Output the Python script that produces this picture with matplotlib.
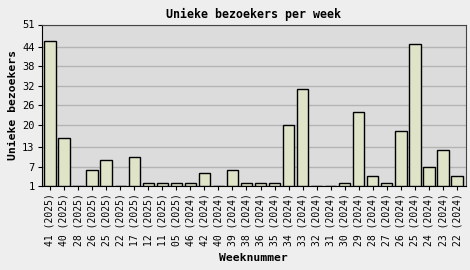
import matplotlib
matplotlib.use("Agg")
import matplotlib.pyplot as plt

weeks = ["41 (2025)", "40 (2025)", "28 (2025)", "26 (2025)", "25 (2025)", "22 (2025)",
         "17 (2025)", "12 (2025)", "11 (2025)", "05 (2025)", "46 (2024)", "42 (2024)",
         "40 (2024)", "39 (2024)", "38 (2024)", "36 (2024)", "35 (2024)", "34 (2024)",
         "33 (2024)", "32 (2024)", "31 (2024)", "30 (2024)", "29 (2024)", "28 (2024)",
         "27 (2024)", "26 (2024)", "25 (2024)", "24 (2024)", "23 (2024)", "22 (2024)"]
visitors = [46, 16, 1, 6, 9, 1, 10, 2, 2, 2, 2, 5, 1, 6, 2, 2, 2, 20, 31, 1, 1, 2, 24, 4, 2, 18, 45, 7, 12, 4]
yticks = [1, 7, 13, 20, 26, 32, 38, 44, 51]

plt.rcParams['font.family'] = ['DejaVu Sans Mono']

fig = plt.figure(figsize=(4.7, 2.7), dpi=100, facecolor="#eeeeee")
ax = fig.add_axes([41.5/470, 1 - 186/270, (465.5 - 41.5)/470, (186 - 24.5)/270])
ax.set_facecolor("#dcdcdc")

x = list(range(len(weeks)))
base = yticks[0]
ax.bar(x, [v - base for v in visitors], bottom=base, width=0.8,
       color="#dfe4c9", edgecolor="black", linewidth=1.0, zorder=3)

ax.set_ylim(yticks[0], yticks[-1])
ax.set_xlim(-0.6, len(weeks) - 0.4)
ax.set_yticks(yticks)
ax.set_yticklabels([str(t) for t in yticks], fontsize=7.5)
ax.set_xticks(x)
ax.set_xticklabels(weeks, rotation=90, fontsize=7)
ax.yaxis.grid(True, color="#b4b4b4", linewidth=1.0, zorder=0)
ax.set_axisbelow(True)

for s in ["top", "right"]:
    ax.spines[s].set_color("#444444")
for s in ["left", "bottom"]:
    ax.spines[s].set_color("black")
ax.tick_params(axis="both", length=3, width=0.8, color="black", pad=2)

ax.set_title("Unieke bezoekers per week", fontsize=8.4, fontweight="bold", pad=5)
ax.set_xlabel("Weeknummer", fontsize=8.2, fontweight="bold", labelpad=5)
ax.set_ylabel("Unieke bezoekers", fontsize=8.2, fontweight="bold", labelpad=3)

fig.savefig("out.png", dpi=100, facecolor=fig.get_facecolor())
